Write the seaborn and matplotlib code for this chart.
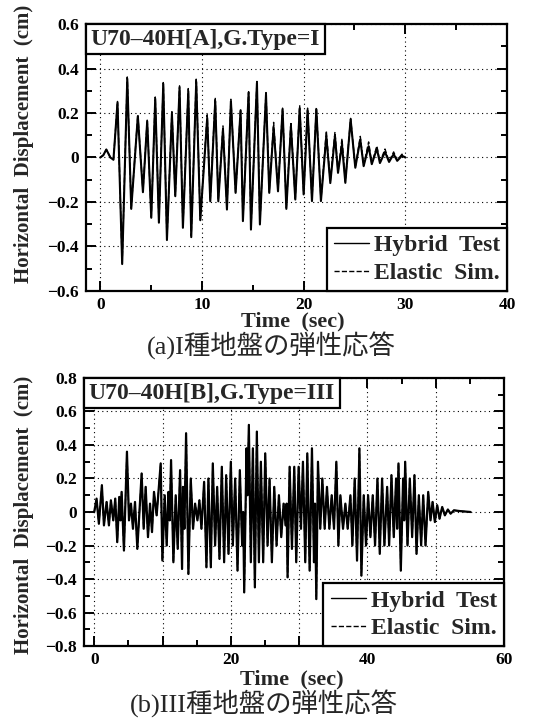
import numpy as np
import matplotlib
matplotlib.use("Agg")
import matplotlib.pyplot as plt
from matplotlib.ticker import MultipleLocator, FuncFormatter
from matplotlib.offsetbox import AnchoredText
import seaborn as sns

# ------------------------------------------------------------
# data (turning points of each trace)
# ------------------------------------------------------------

# (a) G.Type = I
time_a = [0, 0.3, 0.6, 1.0, 1.3,
          1.70, 2.16, 2.66, 3.05, 3.70, 4.20, 4.62, 5.02, 5.41, 5.77,
          6.20, 6.56, 7.05, 7.38, 7.80, 8.13, 8.66, 8.95, 9.44, 9.84,
          10.52, 10.82, 11.31, 11.61, 12.07, 12.46, 12.85, 13.31, 13.80, 14.03,
          14.59, 14.82, 15.41, 15.70, 16.30, 16.62, 17.05, 17.48, 17.93, 18.30,
          18.75, 19.18, 19.61, 20.00, 20.39, 20.82, 21.25, 21.70, 22.23, 22.62,
          23.08, 23.38, 23.77, 24.10, 24.62, 25.08, 25.57, 25.90, 26.39, 26.70,
          27.20, 27.50, 28.00, 28.40, 28.85, 29.20, 29.67, 30.0]
hybrid_a = [0, 0.01, 0.036, 0.0, -0.01,
            0.246, -0.479, 0.354, -0.231, 0.186, -0.156, 0.163, -0.271, 0.264, -0.293,
            0.331, -0.371, 0.196, -0.174, 0.313, -0.316, 0.298, -0.358, 0.340, -0.282,
            0.178, -0.197, 0.253, -0.197, 0.126, -0.234, 0.253, -0.159, 0.211, -0.286,
            0.291, -0.324, 0.336, -0.301, 0.283, -0.159, 0.136, -0.152, 0.216, -0.231,
            0.141, -0.189, 0.219, -0.166, 0.213, -0.196, 0.216, -0.196, 0.096, -0.115,
            0.096, -0.069, 0.058, -0.114, 0.171, -0.046, 0.081, -0.039, 0.051, -0.030,
            0.040, -0.025, 0.025, -0.020, 0.015, -0.015, 0.008, 0.0]
elastic_a = [0, 0.01, 0.036, 0.0, -0.01,
             0.252, -0.475, 0.362, -0.228, 0.192, -0.152, 0.168, -0.268, 0.272, -0.290,
             0.337, -0.368, 0.206, -0.170, 0.322, -0.312, 0.310, -0.352, 0.358, -0.278,
             0.192, -0.192, 0.270, -0.192, 0.142, -0.228, 0.262, -0.155, 0.218, -0.280,
             0.296, -0.320, 0.342, -0.296, 0.292, -0.155, 0.158, -0.148, 0.222, -0.226,
             0.160, -0.185, 0.235, -0.162, 0.222, -0.192, 0.226, -0.192, 0.120, -0.110,
             0.115, -0.065, 0.085, -0.108, 0.176, -0.044, 0.095, -0.036, 0.070, -0.028,
             0.052, -0.022, 0.038, -0.018, 0.025, -0.012, 0.015, 0.0]

# (b) G.Type = III
time_b = [0.00, 0.34, 0.68, 1.12, 1.42, 1.81, 2.15, 2.44, 2.79, 3.08,
          3.37, 3.67, 3.84, 4.01, 4.35, 4.79, 5.09, 5.38, 5.67, 5.97,
          6.31, 6.94, 7.24, 7.53, 7.87, 8.17, 8.46, 8.75, 9.14, 9.73,
          9.98, 10.32, 10.61, 10.86, 11.05, 11.25, 11.59, 11.93, 12.22, 12.57,
          12.86, 13.00, 13.20, 13.45, 13.79, 14.13, 14.47, 14.77, 15.11, 15.40,
          15.70, 16.09, 16.43, 16.72, 17.07, 17.36, 17.70, 18.00, 18.34, 18.68,
          19.02, 19.32, 19.66, 20.00, 20.29, 20.64, 20.98, 21.32, 21.66, 21.81,
          21.96, 22.30, 22.44, 22.64, 22.93, 23.23, 23.52, 23.81, 24.11, 24.40,
          24.74, 25.04, 25.38, 25.67, 26.01, 26.36, 26.70, 27.04, 27.38, 27.73,
          28.02, 28.17, 28.31, 28.61, 28.95, 29.29, 29.58, 29.93, 30.27, 30.56,
          30.90, 31.20, 31.54, 31.88, 32.18, 32.32, 32.52, 32.76, 33.10, 33.40,
          33.74, 34.08, 34.43, 34.77, 35.11, 35.45, 35.75, 36.04, 36.43, 36.77,
          37.11, 37.51, 37.80, 38.14, 38.48, 38.83, 39.12, 39.46, 39.80, 40.10,
          40.44, 40.78, 41.12, 41.47, 41.81, 42.15, 42.49, 42.89, 43.18, 43.52,
          43.86, 44.20, 44.35, 44.55, 44.89, 45.23, 45.38, 45.53, 45.87, 46.21,
          46.55, 46.89, 47.19, 47.53, 47.87, 48.17, 48.51, 48.90, 49.24, 49.54,
          49.88, 50.22, 50.56, 50.95, 51.34, 51.78, 52.18, 52.67, 53.64, 55.11]
hybrid_b = [0.0, 0.08, -0.07, 0.16, -0.08, 0.06, -0.08, 0.07, -0.05, 0.08,
            -0.18, 0.09, -0.05, 0.12, -0.23, 0.36, -0.05, 0.05, -0.10, 0.06,
            -0.22, 0.23, -0.10, 0.15, -0.15, 0.05, -0.12, 0.12, -0.02, 0.29,
            -0.29, 0.10, -0.20, 0.12, -0.05, 0.31, -0.30, 0.10, -0.22, 0.25,
            -0.34, 0.15, -0.10, 0.47, -0.37, 0.20, -0.10, 0.05, -0.05, 0.07,
            -0.10, 0.18, -0.33, 0.20, -0.33, 0.29, -0.20, 0.15, -0.28, 0.27,
            -0.30, 0.22, -0.25, 0.30, -0.20, 0.20, -0.35, 0.25, -0.20, 0.00,
            -0.48, 0.38, 0.10, 0.52, -0.30, 0.38, -0.45, 0.48, -0.30, 0.30,
            -0.30, 0.35, -0.20, 0.20, -0.30, 0.15, -0.20, 0.10, -0.15, 0.05,
            -0.08, 0.05, -0.39, 0.27, -0.22, 0.27, -0.30, 0.27, -0.10, 0.30,
            -0.30, 0.35, -0.35, 0.38, -0.30, 0.05, -0.52, 0.30, -0.10, 0.20,
            -0.10, 0.15, -0.10, 0.10, -0.10, 0.30, -0.20, 0.10, -0.10, 0.05,
            -0.10, 0.10, -0.20, 0.20, -0.29, 0.38, -0.38, 0.10, -0.20, 0.10,
            -0.15, 0.10, -0.20, 0.20, -0.25, 0.20, -0.20, 0.15, -0.20, 0.22,
            -0.15, 0.20, -0.10, 0.29, -0.35, 0.20, -0.05, 0.30, -0.20, 0.20,
            -0.15, 0.22, -0.25, 0.10, -0.20, 0.10, -0.20, 0.12, -0.05, 0.06,
            -0.06, 0.04, -0.04, 0.03, -0.02, 0.015, -0.01, 0.01, 0.005, 0.0]
# the simulation lies on top of the test trace at this scale
elastic_b = list(hybrid_b)

assert len(time_a) == len(hybrid_a) == len(elastic_a)
assert len(time_b) == len(hybrid_b)

labels = ["Hybrid  Test", "Elastic  Sim."]

# ------------------------------------------------------------
# style
# ------------------------------------------------------------
sns.set_theme(style="ticks")
plt.rcParams["font.family"] = ["Liberation Serif", "DejaVu Serif"]
plt.rcParams["font.weight"] = "bold"
plt.rcParams["axes.linewidth"] = 1.6
plt.rcParams["axes.edgecolor"] = "black"

SERIF_BOLD = dict(family=["Liberation Serif"], weight="bold")

fig = plt.figure(figsize=(5.36, 7.19), dpi=100)
ax_a = fig.add_axes([0.1604, 0.5953, 0.7856, 0.3713])
ax_b = fig.add_axes([0.1567, 0.1015, 0.7836, 0.3728])


def style_axes(ax, xlim, ylim, xmaj, label_every, ymaj):
    ax.set_xlim(*xlim)
    ax.set_ylim(*ylim)
    ax.xaxis.set_major_locator(MultipleLocator(xmaj))
    ax.xaxis.set_minor_locator(MultipleLocator(5))
    ax.yaxis.set_major_locator(MultipleLocator(ymaj))
    ax.yaxis.set_minor_locator(MultipleLocator(0.1))
    ax.xaxis.set_major_formatter(
        FuncFormatter(lambda v, p: f"{v:.0f}" if abs(v / label_every - round(v / label_every)) < 1e-6 else ""))
    ax.yaxis.set_major_formatter(
        FuncFormatter(lambda v, p: "0" if abs(v) < 1e-9 else f"{v:.1f}".replace("-", "\u2212")))
    ax.tick_params(which="both", direction="in", top=True, right=True,
                   colors="black", width=1.4)
    ax.tick_params(which="major", length=7, labelsize=12.5)
    ax.tick_params(axis="x", which="major", pad=4)
    ax.tick_params(axis="y", which="major", pad=5)
    ax.tick_params(which="minor", length=4)
    for lab in ax.get_xticklabels() + ax.get_yticklabels():
        lab.set_fontweight("bold")
        lab.set_fontsize(12.5)
    ax.grid(True, which="major", color="black", linestyle=(0, (1, 3)), linewidth=0.8)
    ax.set_xlabel("")
    ax.set_ylabel("")


def draw_panel(ax, t, hyb, ela, title, lw):
    sns.lineplot(x=t, y=ela, ax=ax, color="black", linewidth=1.0, linestyle="--",
                 estimator=None, sort=False, label=labels[1])
    sns.lineplot(x=t, y=hyb, ax=ax, color="black", linewidth=lw,
                 estimator=None, sort=False, label=labels[0])
    handles, labs = ax.get_legend_handles_labels()
    leg = ax.legend([handles[1], handles[0]], [labs[1], labs[0]], loc="lower right",
                    borderaxespad=0, fancybox=False, framealpha=1, edgecolor="black",
                    handlelength=1.5, handletextpad=0.2, borderpad=0.3,
                    labelspacing=0.25, prop=dict(family="Liberation Serif", weight="bold", size=17))
    leg.get_frame().set_linewidth(1.6)
    for h in leg.legend_handles:
        h.set_linewidth(1.0)
    box = AnchoredText(title, loc="upper left", pad=0.2, borderpad=0, frameon=True,
                       prop=dict(family="Liberation Serif", weight="bold", size=17))
    box.patch.set_boxstyle("square,pad=0")
    box.patch.set_linewidth(1.6)
    box.patch.set_edgecolor("black")
    ax.add_artist(box)


draw_panel(ax_a, time_a, hybrid_a, elastic_a, "U70\u201340H[A],G.Type=I", 1.5)
style_axes(ax_a, (-1.4, 40), (-0.6, 0.6), 10, 10, 0.2)

draw_panel(ax_b, time_b, hybrid_b, elastic_b, "U70\u201340H[B],G.Type=III", 1.6)
style_axes(ax_b, (-1.5, 60), (-0.8, 0.8), 10, 20, 0.2)

ylab = "Horizontal  Displacement  (cm)"
fig.text(0.045, 0.800, ylab, rotation=90, ha="center", va="center", size=15, **SERIF_BOLD)
fig.text(0.045, 0.284, ylab, rotation=90, ha="center", va="center", size=15, **SERIF_BOLD)
fig.text(0.547, 0.5535, "Time  (sec)", ha="center", va="center", size=16, **SERIF_BOLD)
fig.text(0.545, 0.0555, "Time  (sec)", ha="center", va="center", size=16, **SERIF_BOLD)

cap_family = ["Liberation Serif", "Noto Sans CJK JP"]
fig.text(0.506, 0.5195, "(a)I種地盤の弾性応答", ha="center", va="center", size=19,
         family=cap_family, weight="normal")
fig.text(0.493, 0.0205, "(b)III種地盤の弾性応答", ha="center", va="center", size=19,
         family=cap_family, weight="normal")

fig.savefig("out.png", dpi=100)
